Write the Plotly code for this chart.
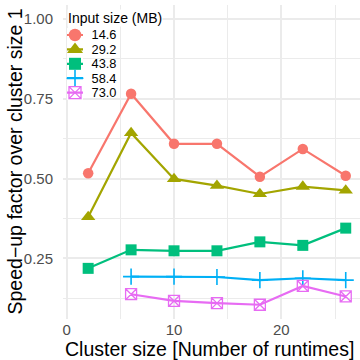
import plotly.graph_objects as go

# ---- data ----
cluster_size = [2, 6, 10, 14, 18, 22, 26]
input_sizes = ["14.6", "29.2", "43.8", "58.4", "73.0"]
speedup_14_6 = [0.517, 0.766, 0.609, 0.609, 0.506, 0.593, 0.509]
speedup_29_2 = [0.380, 0.643, 0.499, 0.478, 0.452, 0.475, 0.463]
speedup_43_8 = [0.219, 0.277, 0.274, 0.274, 0.302, 0.291, 0.345]
speedup_58_4 = [None, 0.193, 0.193, 0.192, 0.182, 0.188, 0.182]
speedup_73_0 = [None, 0.138, 0.117, 0.110, 0.105, 0.164, 0.131]
y_ticks = [0.25, 0.50, 0.75, 1.00]
y_tick_labels = ["0.25", "0.50", "0.75", "1.00"]
x_ticks = [0, 10, 20]

series = [speedup_14_6, speedup_29_2, speedup_43_8, speedup_58_4, speedup_73_0]
colors = ["#F8766D", "#A3A500", "#00BF7D", "#00B0F6", "#E76BF3"]
symbols = ["circle", "triangle-up", "square", "cross-thin", "square-x-open"]
sizes = [10.5, 12.5, 11, 11.5, 11]
mline = [0, 0, 0, 1.6, 1.3]
key_sizes = [12.5, 14, 12, 12, 12]

FONT = "Liberation Sans"
W, H = 360, 360
ML, MR, MT, MB = 63, 0, 5, 41
PW, PH = W - ML - MR, H - MT - MB

def px_x(p):
    return (p - ML) / PW

def px_y(p):
    return (H - MB - p) / PH

fig = go.Figure()

for name, vals, c, sym, sz, lw in zip(input_sizes, series, colors, symbols, sizes, mline):
    fig.add_trace(go.Scatter(
        x=cluster_size, y=vals, mode="lines+markers", name=name,
        line=dict(color=c, width=2.2),
        marker=dict(symbol=sym, size=sz, color=c, line=dict(color=c, width=lw)),
        showlegend=False, connectgaps=False,
    ))

# legend keys drawn on a small inset subplot
for i, (name, c, sym, sz, lw) in enumerate(zip(input_sizes, colors, symbols, key_sizes, mline)):
    fig.add_trace(go.Scatter(
        x=[-1, 1], y=[i, i], mode="lines", line=dict(color=c, width=2.2),
        xaxis="x2", yaxis="y2", showlegend=False, hoverinfo="skip", cliponaxis=False,
    ))
    fig.add_trace(go.Scatter(
        x=[0], y=[i], mode="markers",
        marker=dict(symbol=sym, size=sz, color=c, line=dict(color=c, width=lw)),
        xaxis="x2", yaxis="y2", showlegend=False, hoverinfo="skip", cliponaxis=False,
    ))

grid = "#EBEBEB"
fig.update_layout(
    width=W, height=H,
    margin=dict(l=ML, r=MR, t=MT, b=MB, pad=0),
    paper_bgcolor="white", plot_bgcolor="white",
    font=dict(family=FONT, color="black"),
    showlegend=False,
    xaxis=dict(
        range=[-0.345, 27.33], tickvals=x_ticks, showgrid=True, gridcolor=grid, gridwidth=1.5,
        minor=dict(dtick=5, tick0=0, showgrid=True, gridcolor=grid, gridwidth=1.0),
        zeroline=False, showline=False, ticks="",
        tickfont=dict(family=FONT, size=15, color="#4D4D4D"),
        automargin=False, domain=[0, 1],
    ),
    yaxis=dict(
        range=[0.0604, 1.0438], tickvals=y_ticks, ticktext=y_tick_labels, showgrid=True, gridcolor=grid, gridwidth=1.5,
        minor=dict(dtick=0.125, tick0=0, showgrid=True, gridcolor=grid, gridwidth=1.0),
        zeroline=False, showline=False, ticks="outside", ticklen=6, tickcolor="rgba(0,0,0,0)",
        tickfont=dict(family=FONT, size=15, color="#4D4D4D"),
        automargin=False, domain=[0, 1],
    ),
    xaxis2=dict(
        domain=[px_x(67), px_x(83)], anchor="y2", range=[-1, 1],
        showgrid=False, zeroline=False, showticklabels=False, showline=False, fixedrange=True,
    ),
    yaxis2=dict(
        domain=[px_y(99.8), px_y(27.8)], anchor="x2", range=[4.5, -0.5], side="right",
        tickvals=list(range(len(input_sizes))), ticktext=input_sizes,
        showgrid=False, zeroline=False, showline=False, ticks="outside", ticklen=5,
        tickcolor="rgba(0,0,0,0)", tickfont=dict(family=FONT, size=12.8, color="black"),
        fixedrange=True,
    ),
    annotations=[
        dict(
            text="Input size (MB)", xref="paper", yref="paper", x=px_x(67), y=px_y(17.5),
            xanchor="left", yanchor="middle", showarrow=False, bgcolor="white", borderpad=0,
            font=dict(family=FONT, size=14, color="black"),
        ),
        dict(
            text="Cluster size [Number of runtimes]", xref="paper", yref="paper",
            x=px_x(209.5), y=px_y(348.5), xanchor="center", yanchor="middle", showarrow=False,
            font=dict(family=FONT, size=19.5, color="black"),
        ),
        dict(
            text="Speed\u2212up factor over cluster size 1", xref="paper", yref="paper",
            x=px_x(15), y=px_y(161.5), xanchor="center", yanchor="middle", showarrow=False,
            textangle=-90, font=dict(family=FONT, size=19.5, color="black"),
        ),
    ],
)

fig.write_html("out.html")
